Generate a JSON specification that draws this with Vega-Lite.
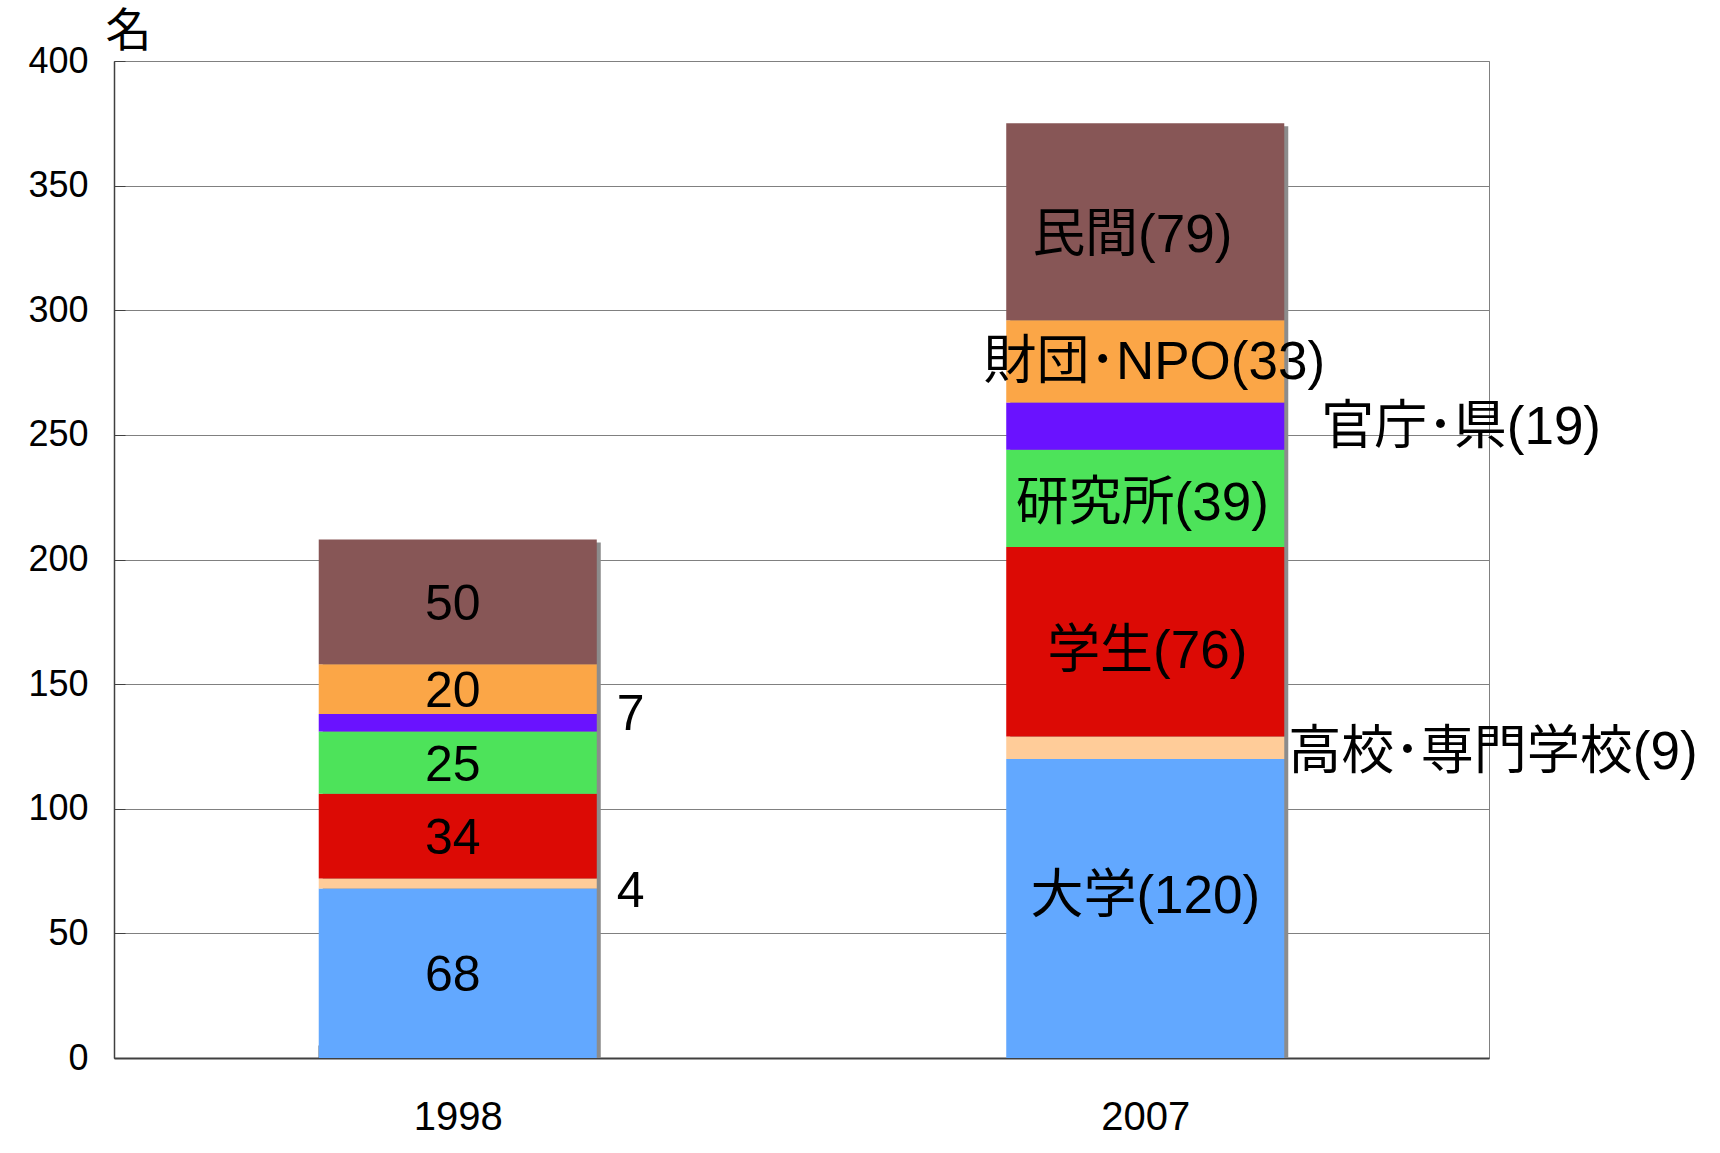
{
  "$schema": "https://vega.github.io/schema/vega-lite/v6.json",
  "width": 1375,
  "height": 997,
  "autosize": "none",
  "padding": {"left": 114, "top": 61, "right": 231, "bottom": 95},
  "background": "white",
  "config": {
    "view": {"stroke": "#808080", "strokeWidth": 1},
    "font": "Liberation Sans, Noto Sans CJK JP"
  },
  "data": {
    "values": [
      {"year": "1998", "cat": "大学", "n": 68, "ord": 1, "lab": "68"},
      {"year": "1998", "cat": "高校・専門学校", "n": 4, "ord": 2, "lab": "4"},
      {"year": "1998", "cat": "学生", "n": 34, "ord": 3, "lab": "34"},
      {"year": "1998", "cat": "研究所", "n": 25, "ord": 4, "lab": "25"},
      {"year": "1998", "cat": "官庁・県", "n": 7, "ord": 5, "lab": "7"},
      {"year": "1998", "cat": "財団・NPO", "n": 20, "ord": 6, "lab": "20"},
      {"year": "1998", "cat": "民間", "n": 50, "ord": 7, "lab": "50"},
      {"year": "2007", "cat": "大学", "n": 120, "ord": 1, "lab": "大学(120)"},
      {"year": "2007", "cat": "高校・専門学校", "n": 9, "ord": 2, "lab": "高校･専門学校(9)"},
      {"year": "2007", "cat": "学生", "n": 76, "ord": 3, "lab": "学生(76)"},
      {"year": "2007", "cat": "研究所", "n": 39, "ord": 4, "lab": "研究所(39)"},
      {"year": "2007", "cat": "官庁・県", "n": 19, "ord": 5, "lab": "官庁･県(19)"},
      {"year": "2007", "cat": "財団・NPO", "n": 33, "ord": 6, "lab": "財団･NPO(33)"},
      {"year": "2007", "cat": "民間", "n": 79, "ord": 7, "lab": "民間(79)"}
    ]
  },
  "encoding": {
    "x": {
      "field": "year", "type": "nominal",
      "scale": {"paddingInner": 0.5956, "paddingOuter": 0.2978},
      "axis": {
        "title": null, "labelAngle": 0, "labelFont": "Liberation Sans", "labelFontSize": 40,
        "labelColor": "black", "labelBaseline": "middle", "labelPadding": 72,
        "tickBand": "extent", "tickSize": -13, "tickColor": "#606060", "tickWidth": 2,
        "domainColor": "#404040", "domainWidth": 2, "grid": false
      }
    }
  },
  "layer": [
    {
      "mark": {"type": "bar", "color": "#8c8c8c", "xOffset": 4, "yOffset": 3},
      "encoding": {
        "y": {
          "aggregate": "sum", "field": "n", "type": "quantitative",
          "scale": {"domain": [0, 400], "nice": false},
          "axis": {
            "values": [0, 50, 100, 150, 200, 250, 300, 350, 400],
            "title": "名", "titleAngle": 0, "titleX": 14, "titleY": -30,
            "titleAlign": "center", "titleBaseline": "middle",
            "titleFont": "Noto Sans CJK JP", "titleFontSize": 46, "titleFontWeight": "normal", "titleColor": "black",
            "labelFont": "Liberation Sans", "labelFontSize": 36, "labelColor": "black",
            "labelPadding": 37, "tickSize": -11, "tickColor": "#404040",
            "gridColor": "#808080", "gridWidth": 1,
            "domainColor": "#404040", "domainWidth": 1.5
          }
        }
      }
    },
    {
      "mark": {"type": "bar"},
      "encoding": {
        "y": {"field": "n", "type": "quantitative", "stack": "zero"},
        "order": {"field": "ord", "type": "quantitative"},
        "color": {
          "field": "cat", "type": "nominal", "legend": null,
          "scale": {
            "domain": ["大学", "高校・専門学校", "学生", "研究所", "官庁・県", "財団・NPO", "民間"],
            "range": ["#62A8FF", "#FFCC99", "#DC0A05", "#4DE35A", "#6A12FF", "#FBA647", "#875656"]
          }
        }
      }
    },
    {
      "mark": {"type": "text", "fontSize": 50, "dx": -5, "dy": 3, "align": "center", "baseline": "middle"},
      "encoding": {
        "y": {"field": "n", "type": "quantitative", "stack": "zero", "bandPosition": 0.5},
        "order": {"field": "ord", "type": "quantitative"},
        "detail": {"field": "cat"},
        "text": {"condition": {"test": "datum.year === '1998' && datum.ord !== 2 && datum.ord !== 5", "field": "lab"}, "value": ""}
      }
    },
    {
      "mark": {"type": "text", "fontSize": 53, "dx": -13, "dy": 14, "align": "center", "baseline": "middle"},
      "encoding": {
        "y": {"field": "n", "type": "quantitative", "stack": "zero", "bandPosition": 0.5},
        "order": {"field": "ord", "type": "quantitative"},
        "detail": {"field": "cat"},
        "text": {"condition": {"test": "datum.year === '2007' && datum.ord === 7", "field": "lab"}, "value": ""}
      }
    },
    {
      "mark": {"type": "text", "fontSize": 53, "dx": 9, "dy": 2, "align": "center", "baseline": "middle"},
      "encoding": {
        "y": {"field": "n", "type": "quantitative", "stack": "zero", "bandPosition": 0.5},
        "order": {"field": "ord", "type": "quantitative"},
        "detail": {"field": "cat"},
        "text": {"condition": {"test": "datum.year === '2007' && datum.ord === 6", "field": "lab"}, "value": ""}
      }
    },
    {
      "mark": {"type": "text", "fontSize": 53, "dx": -3, "dy": 6, "align": "center", "baseline": "middle"},
      "encoding": {
        "y": {"field": "n", "type": "quantitative", "stack": "zero", "bandPosition": 0.5},
        "order": {"field": "ord", "type": "quantitative"},
        "detail": {"field": "cat"},
        "text": {"condition": {"test": "datum.year === '2007' && datum.ord === 4", "field": "lab"}, "value": ""}
      }
    },
    {
      "mark": {"type": "text", "fontSize": 53, "dx": 2, "dy": 10, "align": "center", "baseline": "middle"},
      "encoding": {
        "y": {"field": "n", "type": "quantitative", "stack": "zero", "bandPosition": 0.5},
        "order": {"field": "ord", "type": "quantitative"},
        "detail": {"field": "cat"},
        "text": {"condition": {"test": "datum.year === '2007' && datum.ord === 3", "field": "lab"}, "value": ""}
      }
    },
    {
      "mark": {"type": "text", "fontSize": 53, "dx": 0, "dy": -11, "align": "center", "baseline": "middle"},
      "encoding": {
        "y": {"field": "n", "type": "quantitative", "stack": "zero", "bandPosition": 0.5},
        "order": {"field": "ord", "type": "quantitative"},
        "detail": {"field": "cat"},
        "text": {"condition": {"test": "datum.year === '2007' && datum.ord === 1", "field": "lab"}, "value": ""}
      }
    },
    {
      "mark": {"type": "text", "fontSize": 50, "dx": 20, "dy": -8, "align": "left", "baseline": "middle"},
      "encoding": {
        "x": {"field": "year", "type": "nominal", "bandPosition": 1},
        "y": {"field": "n", "type": "quantitative", "stack": "zero", "bandPosition": 0.5},
        "order": {"field": "ord", "type": "quantitative"},
        "detail": {"field": "cat"},
        "text": {"condition": {"test": "datum.year === '1998' && datum.ord === 5", "field": "lab"}, "value": ""}
      }
    },
    {
      "mark": {"type": "text", "fontSize": 50, "dx": 20, "dy": 8, "align": "left", "baseline": "middle"},
      "encoding": {
        "x": {"field": "year", "type": "nominal", "bandPosition": 1},
        "y": {"field": "n", "type": "quantitative", "stack": "zero", "bandPosition": 0.5},
        "order": {"field": "ord", "type": "quantitative"},
        "detail": {"field": "cat"},
        "text": {"condition": {"test": "datum.year === '1998' && datum.ord === 2", "field": "lab"}, "value": ""}
      }
    },
    {
      "mark": {"type": "text", "fontSize": 53, "dx": 37, "dy": 2, "align": "left", "baseline": "middle"},
      "encoding": {
        "x": {"field": "year", "type": "nominal", "bandPosition": 1},
        "y": {"field": "n", "type": "quantitative", "stack": "zero", "bandPosition": 0.5},
        "order": {"field": "ord", "type": "quantitative"},
        "detail": {"field": "cat"},
        "text": {"condition": {"test": "datum.year === '2007' && datum.ord === 5", "field": "lab"}, "value": ""}
      }
    },
    {
      "mark": {"type": "text", "fontSize": 53, "dx": 4, "dy": 5, "align": "left", "baseline": "middle"},
      "encoding": {
        "x": {"field": "year", "type": "nominal", "bandPosition": 1},
        "y": {"field": "n", "type": "quantitative", "stack": "zero", "bandPosition": 0.5},
        "order": {"field": "ord", "type": "quantitative"},
        "detail": {"field": "cat"},
        "text": {"condition": {"test": "datum.year === '2007' && datum.ord === 2", "field": "lab"}, "value": ""}
      }
    }
  ]
}
